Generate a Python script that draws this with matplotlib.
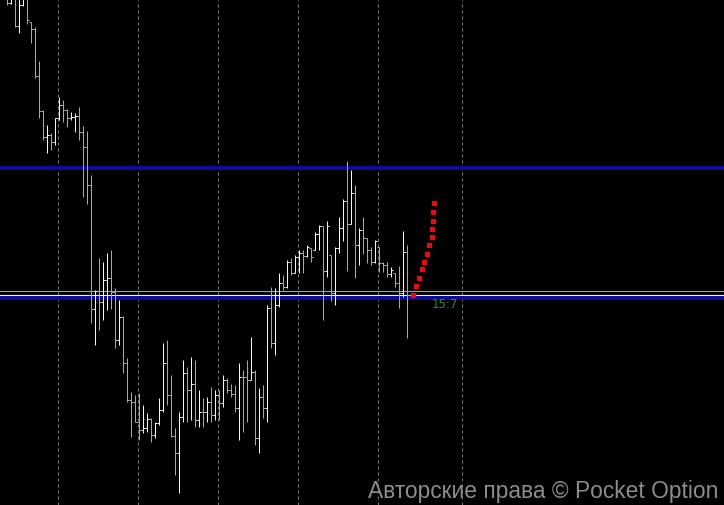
import numpy as np
import matplotlib
matplotlib.use('Agg')
import matplotlib.pyplot as plt

# velas OHLC (precio en puntos, de izquierda a derecha)
opens = [510, 502, 507, 479, 500, 507, 483, 476, 429, 394,
         368, 370, 363, 387, 400, 395, 387, 388, 389, 373,
         358, 320, 196, 214, 203, 225, 227, 213, 165, 188,
         142, 105, 103, 83, 75, 77, 86, 70, 82, 95,
         142, 110, 69, 52, 88, 132, 115, 121, 85, 93,
         93, 103, 90, 110, 102, 125, 115, 111, 97, 128,
         128, 125, 133, 67, 108, 97, 197, 162, 200, 222,
         218, 243, 232, 248, 252, 249, 257, 255, 271, 279,
         234, 250, 212, 257, 277, 304, 281, 312, 260, 275,
         267, 255, 243, 258, 242, 240, 231, 232, 222, 212,
         253]
highs = [520, 515, 515, 510, 510, 510, 483, 478, 444, 395,
         380, 372, 387, 408, 405, 396, 393, 392, 398, 379,
         374, 330, 215, 247, 243, 252, 255, 217, 205, 189,
         147, 113, 110, 112, 100, 92, 87, 83, 107, 162,
         165, 130, 77, 93, 145, 138, 148, 145, 115, 107,
         108, 118, 115, 115, 130, 127, 121, 120, 142, 135,
         145, 168, 135, 117, 120, 200, 218, 217, 232, 230,
         245, 247, 250, 255, 255, 260, 257, 273, 280, 279,
         284, 250, 258, 288, 306, 344, 335, 320, 277, 288,
         267, 258, 265, 258, 243, 243, 238, 232, 239, 274,
         260]
lows = [500, 501, 478, 472, 499, 481, 462, 427, 387, 365,
        352, 355, 360, 385, 383, 378, 385, 373, 365, 308,
        301, 182, 160, 175, 185, 195, 196, 157, 160, 132,
        103, 68, 83, 65, 72, 73, 63, 67, 80, 93,
        100, 68, 30, 12, 83, 83, 85, 78, 78, 78,
        83, 83, 85, 85, 98, 112, 108, 93, 65, 73,
        83, 125, 60, 52, 87, 83, 157, 150, 198, 215,
        217, 230, 232, 232, 232, 248, 243, 255, 255, 185,
        228, 204, 200, 252, 264, 234, 281, 227, 240, 251,
        242, 240, 242, 233, 233, 228, 228, 218, 197, 208,
        167]
closes = [502, 507, 479, 500, 507, 485, 476, 429, 394, 368,
          370, 363, 387, 400, 395, 387, 388, 389, 373, 358,
          320, 196, 214, 203, 225, 227, 213, 165, 188, 142,
          105, 103, 83, 75, 77, 86, 70, 82, 95, 142,
          110, 69, 52, 88, 132, 115, 121, 85, 93, 93,
          103, 90, 110, 102, 125, 115, 111, 97, 128, 128,
          125, 133, 67, 108, 97, 197, 162, 200, 222, 218,
          243, 232, 248, 252, 249, 258, 248, 271, 279, 234,
          279, 212, 257, 277, 304, 281, 312, 260, 275, 267,
          255, 243, 264, 242, 240, 231, 235, 222, 212, 253,
          210]

# niveles horizontales
nivel_resistencia = 337
nivel_soporte = 206.7
nivel_gris = 213.7
nivel_blanco = 209.7

# lineas verticales de tiempo (en indice de vela)
grid_x = [13.75, 33.75, 53.75, 73.75, 93.75, 114.75]

# proyeccion roja punteada
proy_x = [102.5, 103.25, 104, 104.75, 105.25, 106, 106.5, 107.25, 107.25, 107.5, 107.5, 107.75]
proy_y = [210, 219, 227, 236, 243, 251, 260, 268, 276, 284, 293, 302]

etiqueta_tiempo = '15:7'
marca = 'Авторские права © Pocket Option'

fig = plt.figure(figsize=(7.24, 5.05), dpi=100, facecolor='black')
ax = fig.add_axes([0, 0, 1, 1])
ax.set_facecolor('black')

for gx in grid_x:
    ax.axvline(gx, color='#7a7a7a', lw=0.72, ls=(0, (3, 3)), zorder=1)

idx = np.arange(1, len(closes) + 1)
colores = ['#fff0ee' if c > o else '#a8a8a8' for o, c in zip(opens, closes)]

ax.vlines(idx, lows, highs, colors=colores, lw=0.72, zorder=3)
ax.hlines(opens, idx - 0.5, idx, colors=colores, lw=0.72, zorder=3)
ax.hlines(closes, idx, idx + 0.5, colors=colores, lw=0.72, zorder=3)

ax.axhline(nivel_gris, color='#a0a0a0', lw=0.8, zorder=2)
ax.axhline(nivel_blanco, color='#f0f0f0', lw=0.8, zorder=2)
ax.axhline(nivel_resistencia, color='#0b0b9c', lw=2.8, zorder=2)
ax.axhline(nivel_soporte, color='#0b0b9c', lw=2.8, zorder=2)

ax.plot(proy_x, proy_y, ls='none', marker='s', ms=3.2, color='#e01010', mec='#e01010', zorder=4)

ax.text(107.25, 201, etiqueta_tiempo, color='#2e8b2e', fontsize=8.5, va='center', ha='left')
ax.text(0.992, 0.004, marca, transform=ax.transAxes, color='#8c8c8c',
        fontsize=16.4, family='Liberation Sans', ha='right', va='bottom')

ax.set_xlim(-0.75, 180.25)
ax.set_ylim(0, 505)
ax.axis('off')

plt.savefig('out.png', dpi=100, facecolor='black')
